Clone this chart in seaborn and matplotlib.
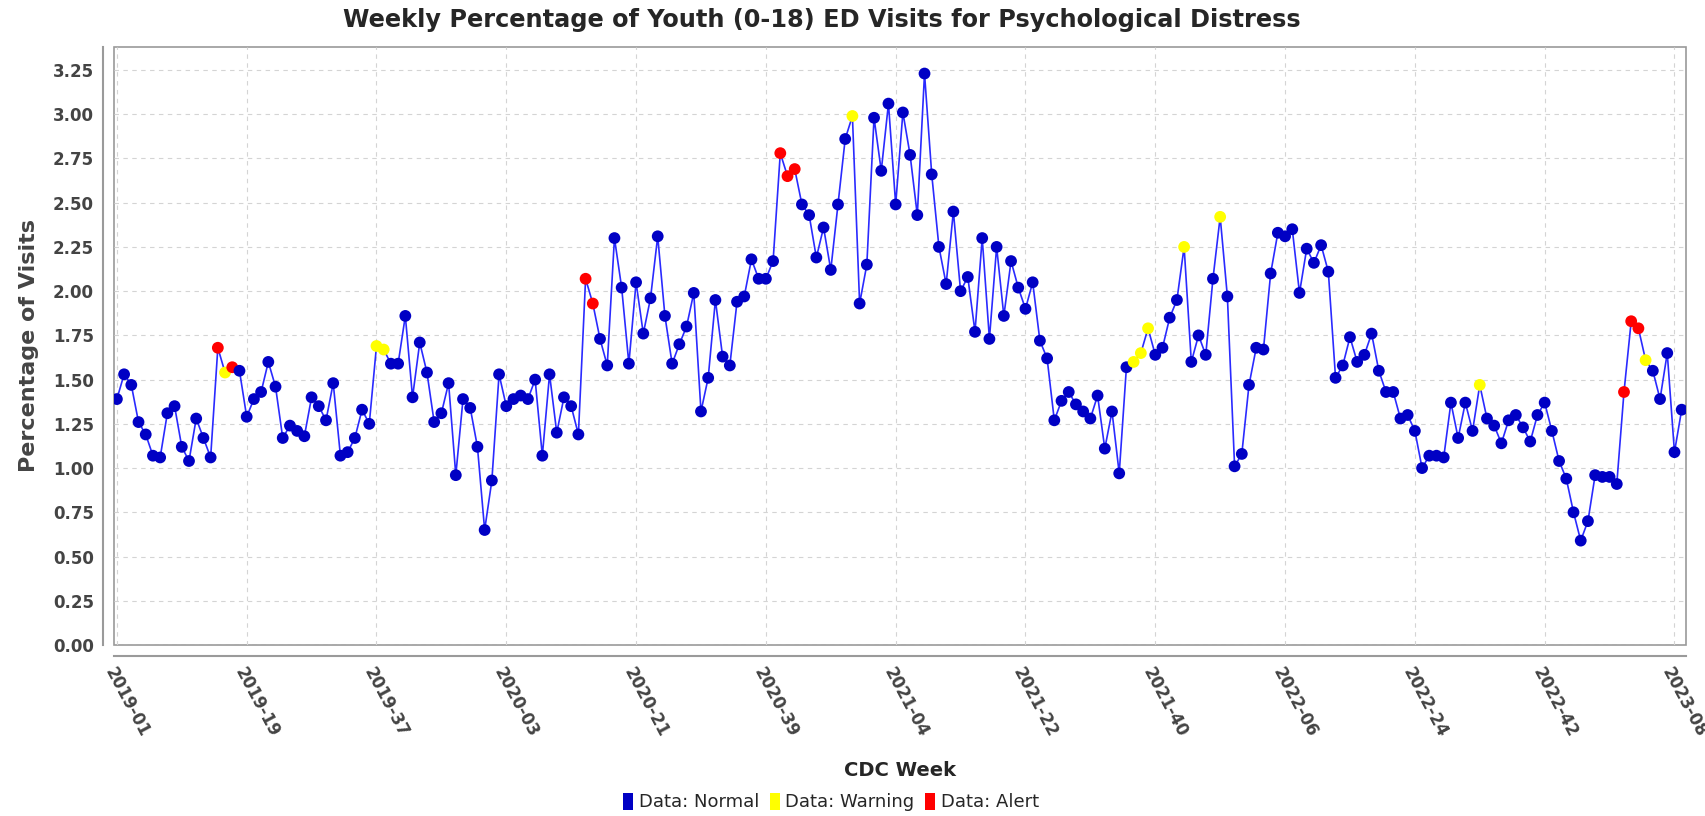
import numpy as np
import pandas as pd
import matplotlib
matplotlib.use("Agg")
import matplotlib.pyplot as plt
import seaborn as sns
from matplotlib.patches import Patch
from matplotlib.ticker import FormatStrFormatter

# CDC weeks covered by the series
years = [2019, 2020, 2021, 2022, 2023]
weeks_per_year = [52, 53, 52, 52, 9]

# weekly percentage of youth ED visits
pct = [
    1.39, 1.53, 1.47, 1.26, 1.19, 1.07, 1.06, 1.31, 1.35, 1.12,
    1.04, 1.28, 1.17, 1.06, 1.68, 1.54, 1.57, 1.55, 1.29, 1.39,
    1.43, 1.60, 1.46, 1.17, 1.24, 1.21, 1.18, 1.40, 1.35, 1.27,
    1.48, 1.07, 1.09, 1.17, 1.33, 1.25, 1.69, 1.67, 1.59, 1.59,
    1.86, 1.40, 1.71, 1.54, 1.26, 1.31, 1.48, 0.96, 1.39, 1.34,
    1.12, 0.65, 0.93, 1.53, 1.35, 1.39, 1.41, 1.39, 1.50, 1.07,
    1.53, 1.20, 1.40, 1.35, 1.19, 2.07, 1.93, 1.73, 1.58, 2.30,
    2.02, 1.59, 2.05, 1.76, 1.96, 2.31, 1.86, 1.59, 1.70, 1.80,
    1.99, 1.32, 1.51, 1.95, 1.63, 1.58, 1.94, 1.97, 2.18, 2.07,
    2.07, 2.17, 2.78, 2.65, 2.69, 2.49, 2.43, 2.19, 2.36, 2.12,
    2.49, 2.86, 2.99, 1.93, 2.15, 2.98, 2.68, 3.06, 2.49, 3.01,
    2.77, 2.43, 3.23, 2.66, 2.25, 2.04, 2.45, 2.00, 2.08, 1.77,
    2.30, 1.73, 2.25, 1.86, 2.17, 2.02, 1.90, 2.05, 1.72, 1.62,
    1.27, 1.38, 1.43, 1.36, 1.32, 1.28, 1.41, 1.11, 1.32, 0.97,
    1.57, 1.60, 1.65, 1.79, 1.64, 1.68, 1.85, 1.95, 2.25, 1.60,
    1.75, 1.64, 2.07, 2.42, 1.97, 1.01, 1.08, 1.47, 1.68, 1.67,
    2.10, 2.33, 2.31, 2.35, 1.99, 2.24, 2.16, 2.26, 2.11, 1.51,
    1.58, 1.74, 1.60, 1.64, 1.76, 1.55, 1.43, 1.43, 1.28, 1.30,
    1.21, 1.00, 1.07, 1.07, 1.06, 1.37, 1.17, 1.37, 1.21, 1.47,
    1.28, 1.24, 1.14, 1.27, 1.30, 1.23, 1.15, 1.30, 1.37, 1.21,
    1.04, 0.94, 0.75, 0.59, 0.70, 0.96, 0.95, 0.95, 0.91, 1.43,
    1.83, 1.79, 1.61, 1.55, 1.39, 1.65, 1.09, 1.33,
]

warning_weeks = ["2019-16", "2019-37", "2019-38", "2020-51", "2021-37", "2021-38",
                 "2021-39", "2021-44", "2021-49", "2022-33", "2023-04"]
alert_weeks = ["2019-15", "2019-17", "2020-14", "2020-15", "2020-41", "2020-42",
               "2020-43", "2023-01", "2023-02", "2023-03"]

week_labels = [f"{y}-{w:02d}" for y, n in zip(years, weeks_per_year) for w in range(1, n + 1)]

df = pd.DataFrame({"week": week_labels, "pct": pct})
df["pos"] = np.arange(len(df))
df["status"] = "Normal"
df.loc[df["week"].isin(warning_weeks), "status"] = "Warning"
df.loc[df["week"].isin(alert_weeks), "status"] = "Alert"

colors = {"Normal": "#0000c4", "Warning": "#ffff00", "Alert": "#ff0000"}

sns.set_style("white")
plt.rcParams["font.family"] = ["DejaVu Sans"]

W, H = 1705, 816
fig = plt.figure(figsize=(W / 100, H / 100), dpi=100)
ax = fig.add_axes([114 / W, 1 - 645 / H, (1686 - 114) / W, (645 - 47) / H])

sns.lineplot(data=df, x="pos", y="pct", color="#2a2aff", lw=1.2, ax=ax, zorder=2)
sns.scatterplot(data=df, x="pos", y="pct", hue="status", palette=colors, s=72,
                edgecolor="none", linewidth=0, ax=ax, zorder=3, legend=False)

ax.set_xlim(-0.4, 217.6)
ax.set_ylim(0, 3.38)

ax.set_yticks(np.arange(0, 3.26, 0.25))
ax.yaxis.set_major_formatter(FormatStrFormatter("%.2f"))
xt = list(range(0, len(df), 18))
ax.set_xticks(xt)
ax.set_xticklabels([week_labels[i] for i in xt])

ax.grid(True, color="#d4d4d4", ls=(0, (4, 4)), lw=0.8)
ax.set_axisbelow(True)

# plot outline plus offset axis lines, JFreeChart style
ax.patch.set_edgecolor("#9a9a9a")
ax.patch.set_linewidth(1.2)
for s in ["top", "right"]:
    ax.spines[s].set_visible(False)
for s in ["left", "bottom"]:
    ax.spines[s].set_position(("outward", 8))
    ax.spines[s].set_color("#9a9a9a")
    ax.spines[s].set_linewidth(1.5)
ax.tick_params(axis="both", which="both", direction="out", length=3, width=0.8,
               color="#9a9a9a", labelsize=12, labelcolor="#444444")
ax.tick_params(axis="x", pad=3)
for lab in ax.get_yticklabels():
    lab.set_fontweight("bold")
for lab in ax.get_xticklabels():
    lab.set_fontweight("bold")
    lab.set_rotation(-62)
    lab.set_rotation_mode("anchor")
    lab.set_ha("left")
    lab.set_va("top")

ax.set_xlabel("")
ax.set_ylabel("Percentage of Visits", fontsize=16, fontweight="bold", color="#444444", labelpad=10)

fig.text(822 / W, 1 - 20 / H, "Weekly Percentage of Youth (0-18) ED Visits for Psychological Distress",
         ha="center", va="center", fontsize=17.3, fontweight="bold")
fig.text(900 / W, 1 - 771 / H, "CDC Week", ha="center", va="center", fontsize=14, fontweight="bold")

handles = [Patch(facecolor=colors[k], edgecolor="none", label=f"Data: {k}") for k in colors]
fig.legend(handles=handles, loc="center", bbox_to_anchor=(831 / W, 1 - 802 / H), ncol=3,
           frameon=False, handlelength=0.55, handleheight=1.1, handletextpad=0.3,
           columnspacing=0.6, fontsize=13)

fig.savefig("out.png", dpi=100)
